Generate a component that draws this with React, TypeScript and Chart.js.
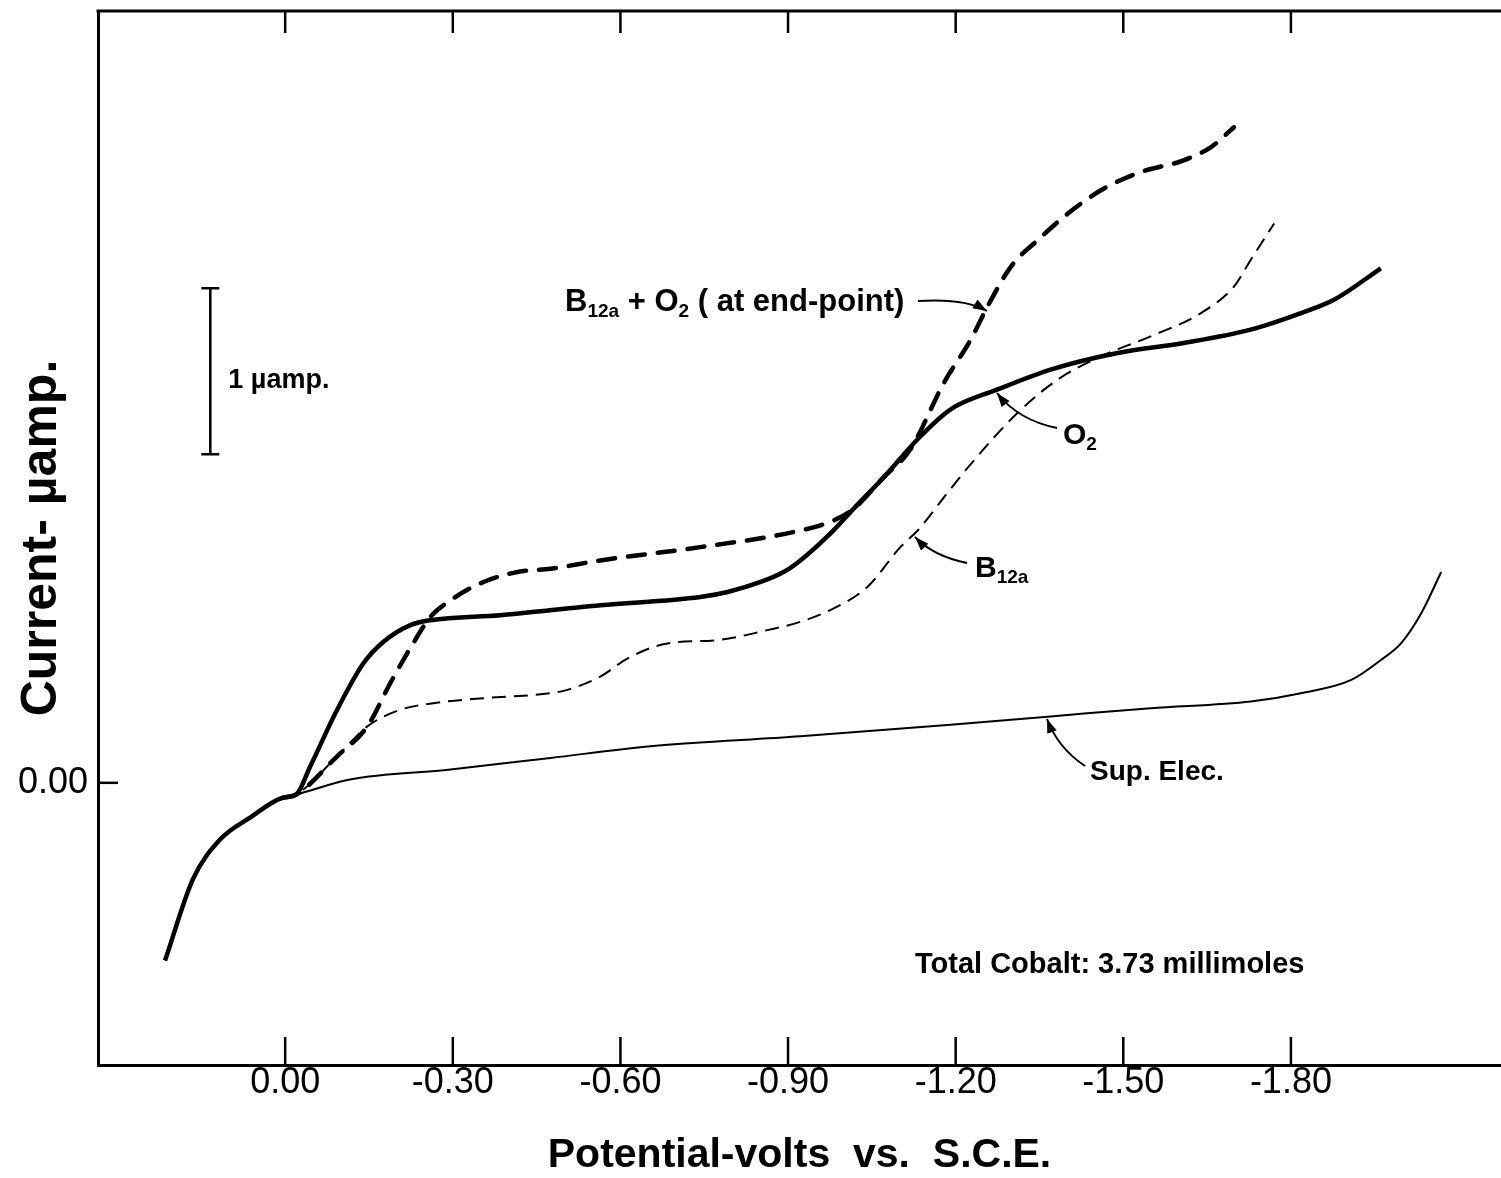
import React, { useEffect, useRef } from "react";
import { Chart, registerables } from "chart.js";

Chart.register(...registerables);

// ---- axis ticks ----
const xTickValues = [0, -0.3, -0.6, -0.9, -1.2, -1.5, -1.8];
const xTickLabels = ["0.00", "-0.30", "-0.60", "-0.90", "-1.20", "-1.50", "-1.80"];
const yTickValues = [0];
const yTickLabels = ["0.00"];

// ---- series (potential in volts vs. S.C.E., current in µamp) ----
const o2Potential = [0.215, 0.165, 0.116, 0.063, 0.004, -0.02, -0.045, -0.093, -0.14, -0.176, -0.224, -0.26, -0.385, -0.564, -0.743, -0.792, -0.851, -0.892, -0.922, -0.981, -1.017, -1.071, -1.132, -1.191, -1.275, -1.37, -1.49, -1.608, -1.728, -1.818, -1.877, -1.961];
const o2Current = [-1.07, -0.58, -0.34, -0.21, -0.09, -0.07, 0.1, 0.44, 0.72, 0.85, 0.95, 0.98, 1.01, 1.07, 1.12, 1.15, 1.21, 1.27, 1.34, 1.52, 1.65, 1.84, 2.07, 2.25, 2.37, 2.49, 2.59, 2.65, 2.73, 2.83, 2.91, 3.1];

const b12aO2Potential = [0.004, -0.02, -0.093, -0.147, -0.188, -0.229, -0.26, -0.296, -0.355, -0.416, -0.475, -0.564, -0.743, -0.922, -0.981, -1.017, -1.071, -1.119, -1.179, -1.227, -1.257, -1.299, -1.347, -1.401, -1.46, -1.531, -1.608, -1.657, -1.698];
const b12aO2Current = [-0.09, -0.07, 0.16, 0.34, 0.6, 0.84, 1.0, 1.1, 1.21, 1.27, 1.29, 1.34, 1.42, 1.52, 1.58, 1.65, 1.84, 2.01, 2.41, 2.67, 2.87, 3.11, 3.27, 3.43, 3.57, 3.68, 3.75, 3.83, 3.95];

const b12aPotential = [0.004, -0.02, -0.093, -0.147, -0.206, -0.265, -0.355, -0.475, -0.505, -0.564, -0.613, -0.684, -0.774, -0.863, -0.922, -0.981, -1.042, -1.101, -1.132, -1.186, -1.222, -1.311, -1.383, -1.46, -1.549, -1.639, -1.698, -1.728, -1.77];
const b12aCurrent = [-0.09, -0.07, 0.16, 0.34, 0.44, 0.48, 0.51, 0.54, 0.56, 0.64, 0.75, 0.84, 0.86, 0.92, 0.97, 1.05, 1.18, 1.42, 1.52, 1.75, 1.9, 2.23, 2.43, 2.57, 2.69, 2.83, 2.99, 3.15, 3.37];

const supPotential = [0.215, 0.165, 0.116, 0.063, 0.004, -0.02, -0.116, -0.296, -0.475, -0.654, -0.922, -1.191, -1.37, -1.549, -1.728, -1.818, -1.908, -1.961, -1.997, -2.033, -2.069];
const supCurrent = [-1.07, -0.58, -0.34, -0.21, -0.09, -0.07, 0.02, 0.08, 0.15, 0.22, 0.28, 0.35, 0.4, 0.45, 0.49, 0.54, 0.62, 0.74, 0.84, 1.02, 1.27];

// scale bar (1 µamp)
const scaleBarPotential = 0.134;
const scaleBarFrom = 1.98;
const scaleBarTo = 2.98;

const SANS = "'Liberation Sans', Arial, sans-serif";

type Part = { t: string; sub?: boolean };

function toPoints(xs: number[], ys: number[]) {
  return xs.map((x, i) => ({ x, y: ys[i] }));
}

function drawRich(ctx: CanvasRenderingContext2D, parts: Part[], x: number, yCenter: number, size: number) {
  const base = yCenter + size * 0.36;
  let cx = x;
  for (const p of parts) {
    if (p.sub) {
      ctx.font = `bold ${Math.round(size * 0.62)}px ${SANS}`;
      ctx.fillText(p.t, cx, base + size * 0.2);
    } else {
      ctx.font = `bold ${size}px ${SANS}`;
      ctx.fillText(p.t, cx, base);
    }
    cx += ctx.measureText(p.t).width;
  }
}

function drawLeader(ctx: CanvasRenderingContext2D, x0: number, y0: number, cx: number, cy: number, x1: number, y1: number) {
  ctx.lineWidth = 2;
  ctx.beginPath();
  ctx.moveTo(x0, y0);
  ctx.quadraticCurveTo(cx, cy, x1, y1);
  ctx.stroke();
  const dx = x1 - cx, dy = y1 - cy;
  const len = Math.hypot(dx, dy) || 1;
  const ux = dx / len, uy = dy / len;
  const L = 14, W = 5;
  ctx.beginPath();
  ctx.moveTo(x1, y1);
  ctx.lineTo(x1 - ux * L - uy * W, y1 - uy * L + ux * W);
  ctx.lineTo(x1 - ux * L + uy * W, y1 - uy * L - ux * W);
  ctx.closePath();
  ctx.fill();
}

const overlay = {
  id: "overlay",
  afterDraw(chart: any) {
    const { ctx, chartArea: a, scales } = chart;
    const xs = scales.x, ys = scales.y;
    ctx.save();
    ctx.strokeStyle = "#000";
    ctx.fillStyle = "#000";
    ctx.lineCap = "butt";
    // top frame line
    ctx.lineWidth = 3;
    ctx.beginPath();
    ctx.moveTo(a.left - 1.5, a.top);
    ctx.lineTo(a.right, a.top);
    ctx.stroke();
    // inward ticks
    ctx.lineWidth = 2.5;
    for (const v of xTickValues) {
      const px = xs.getPixelForValue(v);
      ctx.beginPath();
      ctx.moveTo(px, a.bottom);
      ctx.lineTo(px, a.bottom - 28);
      ctx.moveTo(px, a.top);
      ctx.lineTo(px, a.top + 22);
      ctx.stroke();
    }
    for (const v of yTickValues) {
      const py = ys.getPixelForValue(v);
      ctx.beginPath();
      ctx.moveTo(a.left, py);
      ctx.lineTo(a.left + 20, py);
      ctx.stroke();
    }
    // scale bar
    const sbx = xs.getPixelForValue(scaleBarPotential);
    const sb0 = ys.getPixelForValue(scaleBarFrom);
    const sb1 = ys.getPixelForValue(scaleBarTo);
    ctx.lineWidth = 2.5;
    ctx.beginPath();
    ctx.moveTo(sbx, sb0);
    ctx.lineTo(sbx, sb1);
    ctx.moveTo(sbx - 9, sb0);
    ctx.lineTo(sbx + 9, sb0);
    ctx.moveTo(sbx - 9, sb1);
    ctx.lineTo(sbx + 9, sb1);
    ctx.stroke();
    ctx.textAlign = "left";
    ctx.textBaseline = "alphabetic";
    drawRich(ctx, [{ t: "1 µamp." }], sbx + 18, (sb0 + sb1) / 2 + 7, 27);

    // labels
    drawRich(ctx, [{ t: "B" }, { t: "12a", sub: true }, { t: " + O" }, { t: "2", sub: true }, { t: " ( at end-point)" }], 565, 300, 31);
    drawRich(ctx, [{ t: "O" }, { t: "2", sub: true }], 1063, 433, 30);
    drawRich(ctx, [{ t: "B" }, { t: "12a", sub: true }], 975, 566, 30);
    drawRich(ctx, [{ t: "Sup. Elec." }], 1090, 770, 28);
    drawRich(ctx, [{ t: "Total Cobalt: 3.73 millimoles" }], 915, 963, 29);

    // leaders
    drawLeader(ctx, 918, 301, 965, 298, 987, 311);
    drawLeader(ctx, 1057, 428, 1018, 420, 997, 393);
    drawLeader(ctx, 967, 563, 933, 556, 915, 537);
    drawLeader(ctx, 1085, 766, 1058, 748, 1047, 719);
    ctx.restore();
  },
};

export default function App() {
  const ref = useRef<HTMLCanvasElement>(null);
  useEffect(() => {
    if (!ref.current) return;
    const chart = new Chart(ref.current, {
      type: "line",
      data: {
        datasets: [
          {
            label: "O2",
            data: toPoints(o2Potential, o2Current),
            borderColor: "#000",
            borderWidth: 4.5,
            pointRadius: 0,
            cubicInterpolationMode: "monotone",
            fill: false,
          },
          {
            label: "B12a + O2 (at end-point)",
            data: toPoints(b12aO2Potential, b12aO2Current),
            borderColor: "#000",
            borderWidth: 4.5,
            borderDash: [17, 13],
            borderCapStyle: "round",
            pointRadius: 0,
            cubicInterpolationMode: "monotone",
            fill: false,
          },
          {
            label: "B12a",
            data: toPoints(b12aPotential, b12aCurrent),
            borderColor: "#000",
            borderWidth: 2,
            borderDash: [14, 8],
            pointRadius: 0,
            cubicInterpolationMode: "monotone",
            fill: false,
          },
          {
            label: "Sup. Elec.",
            data: toPoints(supPotential, supCurrent),
            borderColor: "#000",
            borderWidth: 2,
            pointRadius: 0,
            cubicInterpolationMode: "monotone",
            fill: false,
          },
        ],
      } as any,
      options: {
        responsive: false,
        animation: false,
        devicePixelRatio: 1,
        layout: { padding: { top: 11, right: 0, left: 0, bottom: 0 } },
        plugins: { legend: { display: false }, tooltip: { enabled: false } },
        scales: {
          x: {
            type: "linear",
            reverse: true,
            min: -2.176,
            max: 0.335,
            afterBuildTicks: (axis: any) => {
              axis.ticks = xTickValues.map((v) => ({ value: v }));
            },
            afterFit: (axis: any) => {
              axis.height = 113;
              axis.paddingLeft = 0;
              axis.paddingRight = 0;
            },
            ticks: {
              autoSkip: false,
              maxRotation: 0,
              padding: 0,
              color: "#000",
              font: { family: SANS, size: 36, lineHeight: 1 },
              callback: (_v: any, i: number) => xTickLabels[i],
            },
            grid: { display: false, drawTicks: false, tickLength: 0 },
            border: { display: true, color: "#000", width: 3 },
            title: {
              display: true,
              text: "Potential-volts  vs.  S.C.E.",
              color: "#000",
              font: { family: SANS, size: 41, weight: "bold", lineHeight: 1 },
              padding: { top: 0, bottom: 2 },
            },
          },
          y: {
            type: "linear",
            min: -1.7,
            max: 4.65,
            afterBuildTicks: (axis: any) => {
              axis.ticks = yTickValues.map((v) => ({ value: v }));
            },
            afterFit: (axis: any) => {
              axis.width = 98;
              axis.paddingTop = 0;
              axis.paddingBottom = 0;
            },
            ticks: {
              padding: 10,
              color: "#000",
              font: { family: SANS, size: 36, lineHeight: 1 },
              callback: (_v: any, i: number) => yTickLabels[i],
            },
            grid: { display: false, drawTicks: false, tickLength: 0 },
            border: { display: true, color: "#000", width: 3 },
            title: {
              display: true,
              text: "Current- µamp.",
              color: "#000",
              font: { family: SANS, size: 50, weight: "bold", lineHeight: 1 },
              padding: { top: 17, bottom: 0 },
            },
          },
        },
      } as any,
      plugins: [overlay],
    });
    return () => chart.destroy();
  }, []);
  return (
    <div style={{ position: "absolute", left: 0, top: 0, width: 1501, height: 1178, background: "#fff" }}>
      <canvas ref={ref} width={1501} height={1178} style={{ display: "block", width: 1501, height: 1178 }} />
    </div>
  );
}
